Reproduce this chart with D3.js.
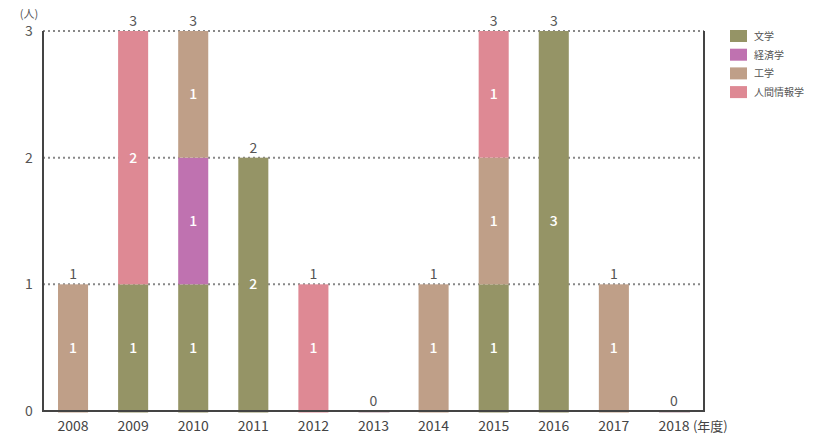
<!DOCTYPE html>
<html><head><meta charset="utf-8">
<script src="https://cdn.jsdelivr.net/npm/d3@7"></script>
<style>body{margin:0;background:#fff;}svg{display:block;font-family:"Noto Sans CJK JP","Noto Sans",sans-serif;}</style>
</head><body><svg id="c" width="814" height="438"></svg>
<script>
const years = ["2008","2009","2010","2011","2012","2013","2014","2015","2016","2017","2018"];
const seriesNames = ["文学","経済学","工学","人間情報学"];
const bungaku   = [0,1,1,2,0,0,0,1,3,0,0];
const keizai    = [0,0,1,0,0,0,0,0,0,0,0];
const kougaku   = [1,0,1,0,0,0,1,1,0,1,0];
const ningen    = [0,2,0,0,1,0,0,1,0,0,0];
const colors = ["#959466","#bf72b0","#bf9f88","#de8994"];
const yTicks = [0,1,2,3];
const yUnit = "(人)";
const xUnit = "(年度)";

const svg = d3.select("#c");
const m = {l:43, r:704, t:31, b:411};
const x = d3.scaleBand().domain(years).range([m.l, m.r]).paddingInner(0.5).paddingOuter(0.25);
const y = d3.scaleLinear().domain([0,3]).range([m.b, m.t]);

const table = years.map((yr,i)=>({year:yr,"文学":bungaku[i],"経済学":keizai[i],"工学":kougaku[i],"人間情報学":ningen[i]}));
const stacked = d3.stack().keys(seriesNames)(table);

// gridlines
svg.append("g").selectAll("line").data(yTicks.filter(d=>d>0)).join("line")
  .attr("x1", m.l).attr("x2", m.r).attr("y1", d=>y(d)).attr("y2", d=>y(d))
  .attr("stroke","#888").attr("stroke-width",2).attr("stroke-dasharray","2,3");

// bars
const gs = svg.append("g").selectAll("g").data(stacked).join("g").attr("fill",(d,i)=>colors[i]);
gs.selectAll("rect").data(d=>d.filter(s=>s[1]-s[0]>0)).join("rect")
  .attr("x", d=>x(d.data.year)).attr("width", x.bandwidth())
  .attr("y", d=>y(d[1])).attr("height", d=>y(d[0])-y(d[1]) + (d[0]===0?1.5:0));
// segment labels
gs.each(function(){
  d3.select(this).selectAll("text").data(d=>d.filter(s=>s[1]-s[0]>0)).join("text")
    .attr("x", d=>x(d.data.year)+x.bandwidth()/2).attr("y", d=>(y(d[0])+y(d[1]))/2+5)
    .attr("text-anchor","middle").attr("fill","#fff").attr("font-size",14).attr("font-weight",500)
    .text(d=>d[1]-d[0]);
});

// zero markers
const totals = table.map(d=>seriesNames.reduce((s,k)=>s+d[k],0));
svg.append("g").selectAll("rect").data(years.filter((yr,i)=>totals[i]===0)).join("rect")
  .attr("x", d=>x(d)).attr("width", x.bandwidth()+1).attr("y", y(0)).attr("height",1.5).attr("fill","#b99aa6");

// totals
svg.append("g").selectAll("text").data(years).join("text")
  .attr("x", d=>x(d)+x.bandwidth()/2).attr("y",(d,i)=>y(totals[i])-5)
  .attr("text-anchor","middle").attr("fill","#555").attr("font-size",14)
  .text((d,i)=>totals[i]);

// axes lines
svg.append("line").attr("x1",m.l).attr("x2",m.l).attr("y1",m.t).attr("y2",m.b+1).attr("stroke","#444").attr("stroke-width",2);
svg.append("line").attr("x1",m.r).attr("x2",m.r).attr("y1",m.t).attr("y2",m.b+1).attr("stroke","#444").attr("stroke-width",2);
svg.append("line").attr("x1",m.l-1).attr("x2",m.r+1).attr("y1",m.b).attr("y2",m.b).attr("stroke","#444").attr("stroke-width",2);

// y tick labels
svg.append("g").selectAll("text").data(yTicks).join("text")
  .attr("x",29).attr("y",d=>y(d)+5).attr("text-anchor","middle").attr("fill","#555").attr("font-size",14).text(d=>d);
svg.append("text").attr("x",29).attr("y",18).attr("text-anchor","middle").attr("fill","#555").attr("font-size",11).text(yUnit);

// x tick labels
svg.append("g").selectAll("text").data(years).join("text")
  .attr("x", d=>x(d)+x.bandwidth()/2).attr("y",431).attr("text-anchor","middle").attr("fill","#444").attr("font-size",14)
  .text(d=>d);
svg.append("text").attr("x", x("2018")+x.bandwidth()/2+19).attr("y",431).attr("fill","#444").attr("font-size",13).text(xUnit);

// legend
const lg = svg.append("g").selectAll("g").data(seriesNames).join("g")
  .attr("transform",(d,i)=>`translate(730,${30+i*18.7})`);
lg.append("rect").attr("width",17).attr("height",12).attr("fill",(d,i)=>colors[i]);
lg.append("text").attr("x",24).attr("y",10).attr("font-size",10).attr("fill","#555").text(d=>d);
</script></body></html>
